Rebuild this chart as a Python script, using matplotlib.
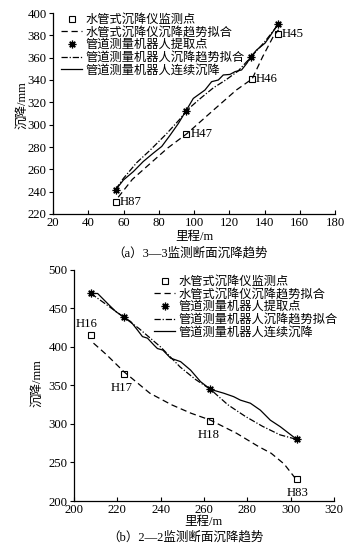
import matplotlib
matplotlib.use("Agg")
import matplotlib.pyplot as plt

plt.rcParams['font.family'] = ['Liberation Serif', 'Noto Sans CJK SC', 'DejaVu Sans']
plt.rcParams['axes.unicode_minus'] = False

# ---------------- (a) 3-3 section ----------------
a_water_x = [55.5, 95.5, 132.7, 147.5]
a_water_y = [231, 292, 341, 381]
a_water_labels = ['H87', 'H47', 'H46', 'H45']

a_wfit_x = [57, 65, 75, 85, 96, 111, 124, 133, 139, 145, 148]
a_wfit_y = [235, 251, 265, 279, 292, 313, 331, 341, 361, 379, 385]

a_robot_x = [55.5, 95.5, 132.3, 147.8]
a_robot_y = [241.5, 312.5, 361, 390.5]

a_rfit_x = [55.5, 60, 67.5, 75, 84.5, 92, 96, 104, 111, 118, 125, 132, 140, 148]
a_rfit_y = [242, 252, 266, 277, 292, 305, 313, 324, 333, 340, 348, 360, 374, 390]

a_cont_x = [55.5, 60, 65.6, 71.2, 76.9, 81.7, 86.4, 91.1, 95.5, 99.6, 106.2, 110,
            113.8, 116.6, 120.4, 123.3, 127, 130, 132.3, 135.6, 140.3, 143, 147.8]
a_cont_y = [241.5, 250.5, 258, 267, 274.5, 280.5, 290.5, 301, 312.5, 323.5, 331, 338.5,
            340, 344.5, 345, 347.5, 349, 355, 361, 367, 373, 379, 390.5]

# ---------------- (b) 2-2 section ----------------
b_water_x = [207.8, 223.1, 263.0, 302.8]
b_water_y = [415.5, 365, 304, 228]
b_water_labels = ['H16', 'H17', 'H18', 'H83']

b_wfit_x = [209, 215, 223, 235, 245, 254, 263, 275, 285, 291, 297, 302]
b_wfit_y = [405, 390, 368, 340, 325, 314, 305, 288, 271, 262, 248, 230]

b_robot_x = [207.8, 223.1, 263.0, 302.8]
b_robot_y = [469.5, 438.5, 345, 280]

b_rfit_x = [207.8, 215, 223.1, 230, 240, 249, 256, 263, 271, 279, 287, 295, 302.8]
b_rfit_y = [469.5, 455, 438.5, 424, 400, 374, 358, 345, 325, 310, 297, 286, 280]

b_cont_x = [207.8, 210.9, 213.2, 216.2, 219.3, 223.1, 226.2, 229.3, 231.6, 233.9, 236.9,
            238.5, 241, 244.6, 249.2, 253.8, 258.4, 263.0, 269.1, 273.7, 276.8, 281.4,
            286, 290.6, 295.2, 302.8]
b_cont_y = [469.5, 469.5, 463, 454.5, 446, 438.5, 433, 422, 413.5, 411.5, 402.5,
            398, 396, 385.5, 381, 370, 355, 345, 340, 335.5, 331, 327,
            318, 305, 296.5, 280]

legend_labels = ['水管式沉降仪监测点', '水管式沉降仪沉降趋势拟合', '管道测量机器人提取点',
                 '管道测量机器人沉降趋势拟合', '管道测量机器人连续沉降']

W, H = 359, 545
fig = plt.figure(figsize=(W / 100, H / 100), dpi=100)
fig.patch.set_facecolor('white')

ax1 = fig.add_axes([53 / W, 1 - 214 / H, (335 - 53) / W, (214 - 13) / H])
ax2 = fig.add_axes([74 / W, 1 - 501 / H, (334 - 74) / W, (501 - 270) / H])

FS = 8.8
TFS = 9.2
star = (8, 2, 0)


def draw(ax, wx, wy, wfx, wfy, rx, ry, rfx, rfy, cx, cy):
    h1, = ax.plot(wx, wy, linestyle='none', marker='s', ms=4, mfc='white', mec='black', mew=0.8)
    h2, = ax.plot(wfx, wfy, color='black', lw=0.9, linestyle=(0, (5, 3)))
    h3, = ax.plot(rx, ry, linestyle='none', marker=star, ms=5.5, mec='black', mew=0.9, color='black')
    h4, = ax.plot(rfx, rfy, color='black', lw=0.9, linestyle=(0, (5, 1.5, 1, 1.5)))
    h5, = ax.plot(cx, cy, color='black', lw=0.9)
    for s in ['top', 'right']:
        ax.spines[s].set_visible(False)
    for s in ['left', 'bottom']:
        ax.spines[s].set_linewidth(0.9)
    ax.tick_params(axis='y', direction='out', length=3, width=0.8, labelsize=TFS, pad=1.5)
    ax.tick_params(axis='x', direction='in', length=3, width=0.8, labelsize=TFS, pad=2.5)
    return [h1, h2, h3, h4, h5]


hs1 = draw(ax1, a_water_x, a_water_y, a_wfit_x, a_wfit_y, a_robot_x, a_robot_y,
           a_rfit_x, a_rfit_y, a_cont_x, a_cont_y)
ax1.set_xlim(20, 180)
ax1.set_ylim(220, 400)
ax1.set_xticks(range(20, 181, 20))
ax1.set_yticks(range(220, 401, 20))
for x, y, t in zip(a_water_x, a_water_y, a_water_labels):
    ax1.annotate(t, (x, y), xytext=(3, 0), textcoords='offset points',
                 ha='left', va='center', fontsize=TFS)

hs2 = draw(ax2, b_water_x, b_water_y, b_wfit_x, b_wfit_y, b_robot_x, b_robot_y,
           b_rfit_x, b_rfit_y, b_cont_x, b_cont_y)
ax2.set_xlim(200, 320)
ax2.set_ylim(200, 500)
ax2.set_xticks(range(200, 321, 20))
ax2.set_yticks(range(200, 501, 50))
b_offsets = [(-3, 8), (-2, -10), (-1, -10), (1, -10)]
for (x, y, t), off in zip(zip(b_water_x, b_water_y, b_water_labels), b_offsets):
    ax2.annotate(t, (x, y), xytext=off, textcoords='offset points',
                 ha='center', va='center', fontsize=TFS)

leg_kw = dict(frameon=False, fontsize=FS, handlelength=1.75, handletextpad=0.25,
              labelspacing=0.05, borderpad=0, borderaxespad=0, loc='upper left')
fig.legend(hs1, legend_labels, bbox_to_anchor=(61 / W, 1 - 14 / H), **leg_kw)
fig.legend(hs2, legend_labels, bbox_to_anchor=(154 / W, 1 - 276 / H), **leg_kw)

# axis labels and captions
fig.text(22 / W, 1 - 105 / H, '沉降/mm', rotation=90, ha='center', va='center', fontsize=9)
fig.text(194 / W, 1 - 237 / H, '里程/m', ha='center', va='center', fontsize=9)
fig.text(190 / W, 1 - 253 / H, '（a）3—3监测断面沉降趋势', ha='center', va='center', fontsize=9)

fig.text(37 / W, 1 - 383 / H, '沉降/mm', rotation=90, ha='center', va='center', fontsize=9)
fig.text(203 / W, 1 - 522 / H, '里程/m', ha='center', va='center', fontsize=9)
fig.text(185 / W, 1 - 537 / H, '（b）2—2监测断面沉降趋势', ha='center', va='center', fontsize=9)

fig.savefig('out.png', dpi=100, facecolor='white')
